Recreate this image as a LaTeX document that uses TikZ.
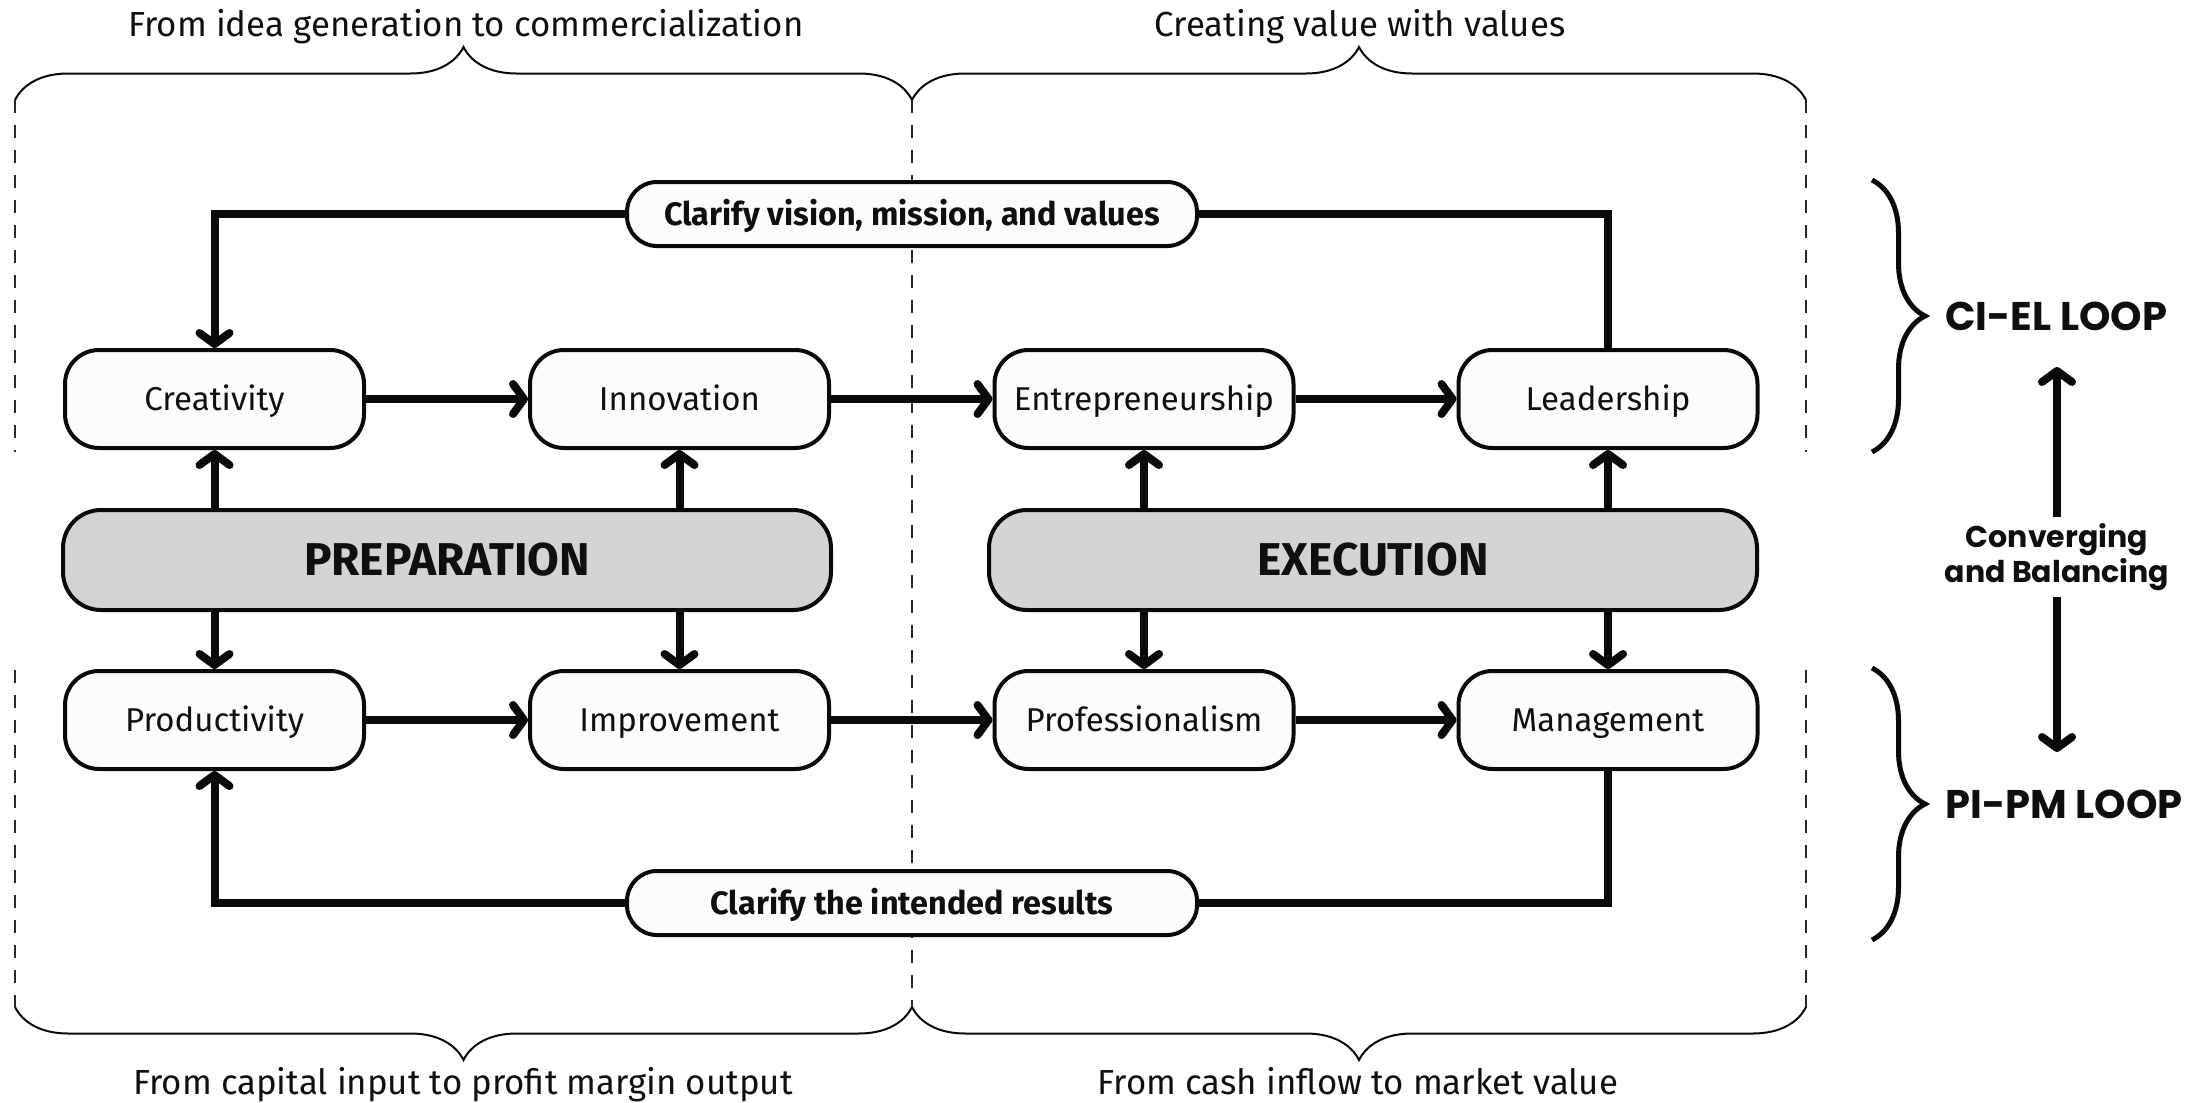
\documentclass[tikz,border=0pt]{standalone}
\usepackage{fontspec}
\setmainfont{Fira Sans}
\newfontfamily\loopfont{Poppins}
\usetikzlibrary{arrows.meta,decorations.pathreplacing}
\definecolor{boxcol}{RGB}{252,252,252}
\definecolor{phasecol}{RGB}{210,211,213}
\definecolor{linecol}{RGB}{10,10,10}
\definecolor{guidecol}{RGB}{40,40,40}
\definecolor{labelcol}{RGB}{15,15,15}

\begin{document}
\begin{tikzpicture}[
  x=0.5pt, y=-0.5pt,
  box/.style={
    draw=linecol, line width=2pt, rounded corners=17pt, fill=boxcol,
    minimum width=149.5pt, minimum height=49pt, inner sep=0pt,
    font=\fontsize{16.5}{19}\selectfont, text=labelcol,
    text height=11.4pt, text depth=0pt
  },
  phase/.style={
    box, fill=phasecol, minimum width=384pt, minimum height=50pt,
    rounded corners=19pt, font=\fontsize{23}{26}\selectfont\bfseries,
    text height=15.9pt
  },
  goal/.style={
    box, minimum width=285pt, minimum height=32pt, rounded corners=15pt,
    font=\fontsize{16.2}{19}\selectfont\bfseries, text height=11.2pt
  },
  title/.style={font=\fontsize{17.4}{20}\selectfont, text=labelcol, inner sep=0pt},
  looplab/.style={font=\loopfont\bfseries\fontsize{20}{24}\selectfont, text=labelcol, inner sep=0pt},
  conv/.style={font=\loopfont\bfseries\fontsize{15}{14}\selectfont, text=labelcol,
    align=center, inner sep=3pt},
  flow/.style={draw=linecol, line width=4pt,
    -{Straight Barb[length=5.5pt,width=15pt,line cap=round,line join=round]}},
  loopline/.style={draw=linecol, line width=4pt},
  guide/.style={draw=guidecol, line width=1pt, dash pattern=on 6.5pt off 6pt},
  topbrace/.style={draw=linecol, line width=1pt, decorate,
    decoration={brace, amplitude=26.5pt}},
  sidebrace/.style={draw=linecol, line width=2.5pt, decorate,
    decoration={brace, amplitude=26.5pt}}
]
\useasboundingbox (0,0) rectangle (2206,1103);

%% ===================== Guides and spans =========================
\draw[guide] (15,100)   -- (15,452);
\draw[guide] (15,670)   -- (15,1007);
\draw[guide] (912,100)  -- (912,1007);
\draw[guide] (1806,100) -- (1806,452);
\draw[guide] (1806,670) -- (1806,1007);

\draw[topbrace] (15,100)    -- (912,100);
\draw[topbrace] (912,100)   -- (1806,100);
\draw[topbrace] (912,1007)  -- (15,1007);
\draw[topbrace] (1806,1007) -- (912,1007);

\node[title, anchor=base] (tidea) at (466,36)   {From idea generation to commercialization};
\node[title, anchor=base] (tval)  at (1360,36)  {Creating value with values};
\node[title, anchor=base] (tcap)  at (463,1094) {From capital input to profit margin output};
\node[title, anchor=base] (tcash) at (1358,1094) {From cash inflow to market value};

%% ===================== CI-EL row ================================
\node[goal]  (vis)  at (912,214)    {Clarify vision, mission, and values};
\node[box]   (crea) at (214.5,399)  {Creativity};
\node[box]   (inno) at (679.5,399)  {Innovation};
\node[box]   (entr) at (1144,399)   {Entrepreneurship};
\node[box]   (lead) at (1608,399)   {Leadership};

%% ===================== Phases ===================================
\node[phase] (prep) at (447,560)    {PREPARATION};
\node[phase] (exec) at (1373,560)   {EXECUTION};

%% ===================== PI-PM row ================================
\node[box]   (prod) at (214.5,720)  {Productivity};
\node[box]   (impr) at (679.5,720)  {Improvement};
\node[box]   (prof) at (1144,720)   {Professionalism};
\node[box]   (mana) at (1608,720)   {Management};
\node[goal]  (res)  at (912,903)    {Clarify the intended results};

%% ===================== Main flow ================================
\draw[flow] (crea) -- (inno);
\draw[flow] (inno) -- (entr);
\draw[flow] (entr) -- (lead);
\draw[flow] (prod) -- (impr);
\draw[flow] (impr) -- (prof);
\draw[flow] (prof) -- (mana);

% phases feed both rows
\draw[flow] (prep.north -| crea) -- (crea.south);
\draw[flow] (prep.north -| inno) -- (inno.south);
\draw[flow] (exec.north -| entr) -- (entr.south);
\draw[flow] (exec.north -| lead) -- (lead.south);
\draw[flow] (prep.south -| prod) -- (prod.north);
\draw[flow] (prep.south -| impr) -- (impr.north);
\draw[flow] (exec.south -| prof) -- (prof.north);
\draw[flow] (exec.south -| mana) -- (mana.north);

%% ===================== Loops ====================================
\draw[loopline] (lead.north) |- (vis.east);
\draw[flow]     (vis.west)   -| (crea.north);
\draw[loopline] (mana.south) |- (res.east);
\draw[flow]     (res.west)   -| (prod.south);

%% ===================== Loop labels ==============================
\draw[sidebrace] (1872,180) -- (1872,452);
\draw[sidebrace] (1872,668) -- (1872,940);
\node[looplab, anchor=west] (ciel) at (1945,316) {CI-EL LOOP};
\node[looplab, anchor=west] (pipm) at (1945,804) {PI-PM LOOP};

\node[conv] (conv) at (2057,557) {Converging\\and Balancing};
\coordinate (citip) at (2057,367);
\coordinate (pitip) at (2057,752);
\draw[flow] (conv) -- (citip);
\draw[flow] (conv) -- (pitip);

\end{tikzpicture}
\end{document}
